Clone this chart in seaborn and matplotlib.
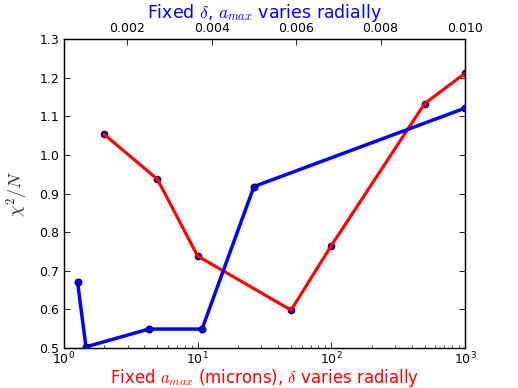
import matplotlib
matplotlib.use("Agg")
import matplotlib.pyplot as plt
import numpy as np
import seaborn as sns

# red series: fixed a_max (microns), delta varies radially
amax_microns = [2, 5, 10, 50, 100, 500, 1000]
chi2_amax = [1.053, 0.937, 0.738, 0.598, 0.765, 1.133, 1.211]

# blue series: fixed delta, a_max varies radially
delta_vals = [0.00082, 0.00102, 0.00251, 0.00377, 0.0050, 0.0100]
chi2_delta = [0.672, 0.503, 0.549, 0.549, 0.918, 1.121]

y_ticks = [0.5, 0.6, 0.7, 0.8, 0.9, 1.0, 1.1, 1.2, 1.3]
top_ticks = [0.002, 0.004, 0.006, 0.008, 0.010]

sns.set_style("ticks")
plt.rcParams["font.family"] = ["DejaVu Sans"]
plt.rcParams["mathtext.fontset"] = "cm"
plt.rcParams["text.color"] = "black"
plt.rcParams["xtick.color"] = "black"
plt.rcParams["ytick.color"] = "black"

fig = plt.figure(figsize=(5.18, 3.88), dpi=100)
ax = fig.add_axes([64 / 518, 1 - 348 / 388, 401 / 518, 309 / 388])
ax.set_xscale("log")

# markers under the red line
ax.plot(amax_microns, chi2_amax, "o", color="blue", mec="#000060",
        ms=4.5, zorder=2)
sns.lineplot(x=amax_microns, y=chi2_amax, ax=ax, sort=False, color="red",
             lw=2.3, zorder=3)
ax.set_xlim(1, 1000)
ax.set_ylim(0.5, 1.3)
ax.set_yticks(y_ticks)
ax.set_yticklabels([f"{v:.1f}" for v in y_ticks])
ax.tick_params(axis="both", which="both", direction="in", labelsize=9,
               top=False, right=True, colors="black")
ax.tick_params(which="major", length=4, width=0.6)
ax.tick_params(which="minor", length=2, width=0.5)
ax.tick_params(axis="x", pad=2)
ax.set_xlabel(r"Fixed $a_{max}$ (microns), $\delta$ varies radially",
              color="red", fontsize=12, labelpad=0)
ax.set_ylabel(r"$\chi^2/N$", fontsize=13)
ax.yaxis.set_label_coords(-0.085, 0.5)

ax2 = ax.twiny()
sns.lineplot(x=delta_vals, y=chi2_delta, ax=ax2, sort=False, color="blue",
             lw=2.5, marker="o", ms=5, mfc="blue", mec="#000060", zorder=3)
ax2.set_xlim(0.0005, 0.0100)
ax2.set_ylim(0.5, 1.3)
ax2.set_xticks(top_ticks)
ax2.set_xticklabels([f"{v:.3f}" for v in top_ticks])
ax2.tick_params(axis="x", direction="in", labelsize=9, length=4, width=0.6,
                pad=3, colors="black")
ax2.set_xlabel(r"Fixed $\delta$, $a_{max}$ varies radially",
               color="blue", fontsize=12.5, labelpad=3)

for a in (ax, ax2):
    for s in a.spines.values():
        s.set_visible(True)
        s.set_linewidth(0.9)
        s.set_color("black")

fig.savefig("out.png", dpi=100)
